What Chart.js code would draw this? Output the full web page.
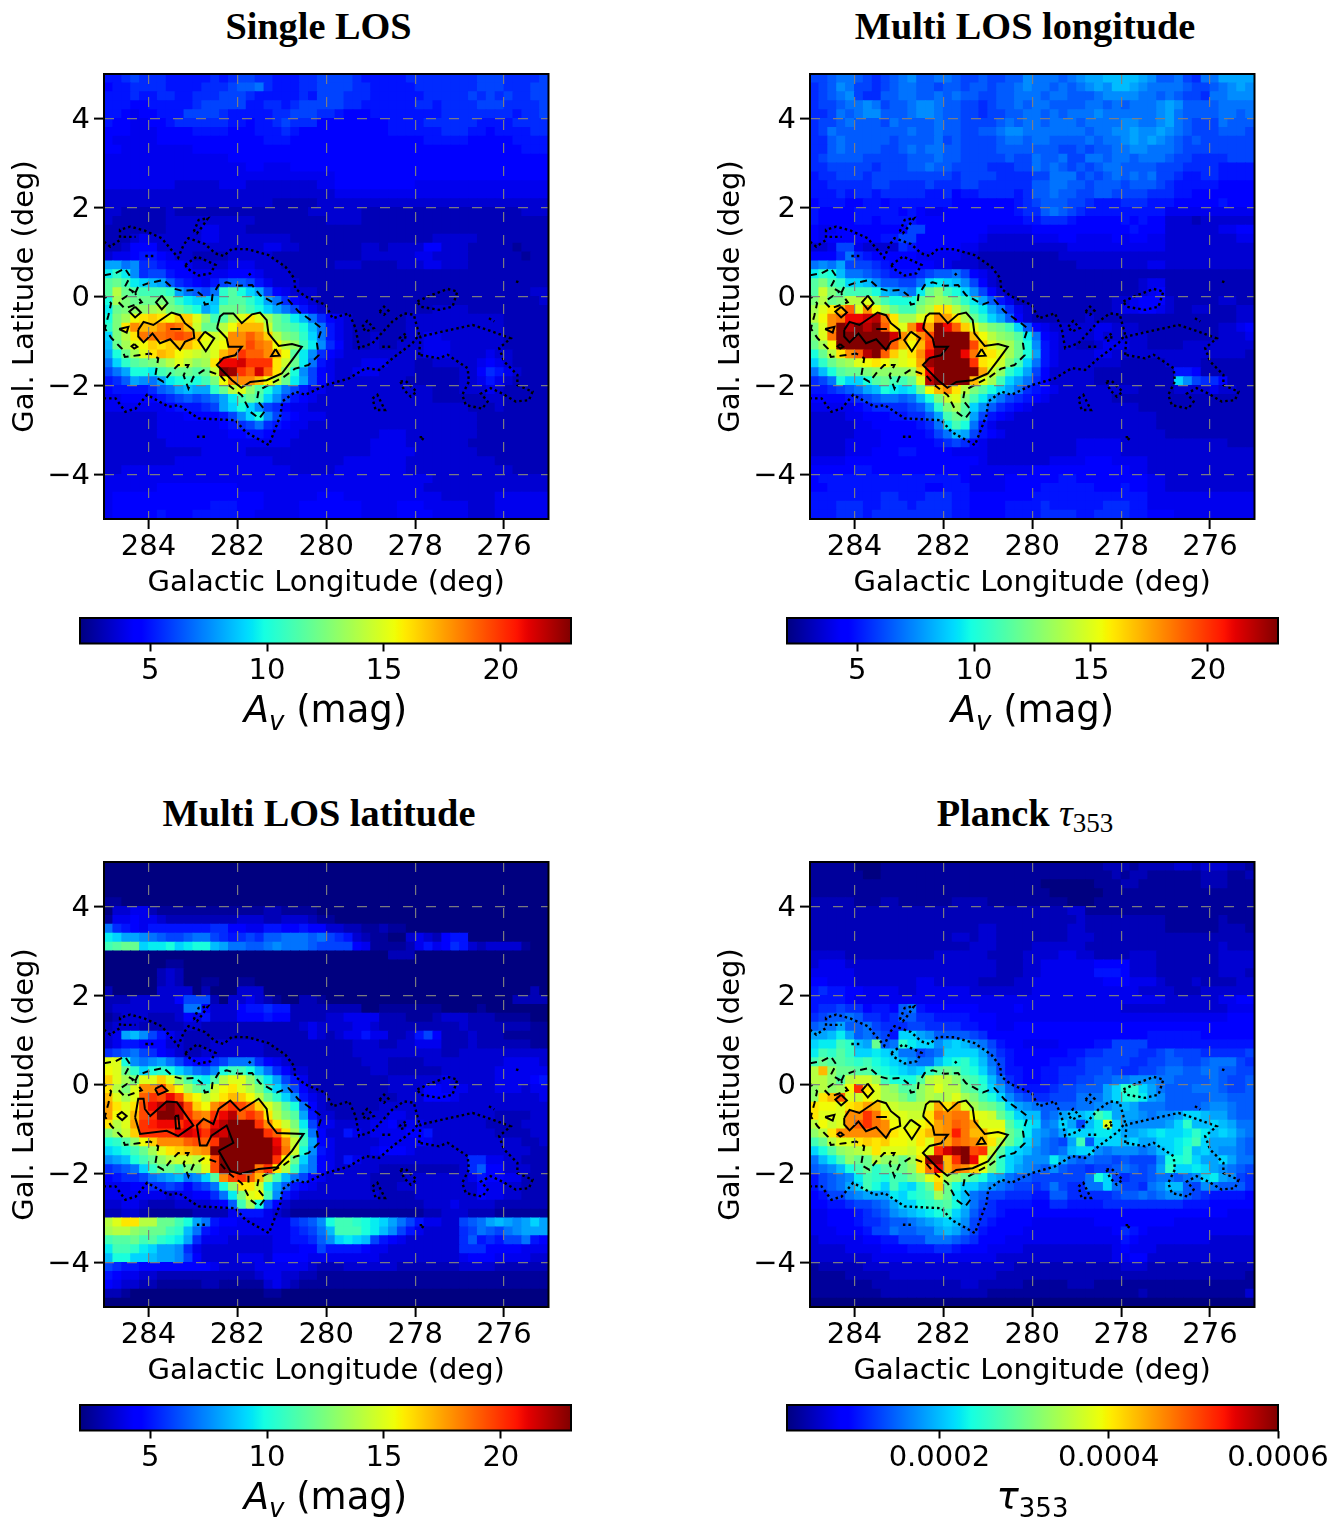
<!DOCTYPE html>
<html>
<head>
<meta charset="utf-8">
<title>Extinction maps</title>
<script src="https://cdn.jsdelivr.net/npm/chart.js@4"></script>
<style>
body { margin: 0; background: #fff; }
#page { position: relative; width: 1341px; height: 1519px; overflow: hidden; }
canvas { position: absolute; }
.title { position: absolute; width: 600px; text-align: center; font: bold 38.3px "Liberation Serif", serif; color: #000; white-space: nowrap; }
.title span { font-weight: normal; }
.title sub { font-size: 27px; vertical-align: -6px; line-height: 0; }
.cb { position: absolute; width: 491px; text-align: center; font: 37px "DejaVu Sans", sans-serif; color: #000; white-space: nowrap; }
.cb i sub { font-style: normal; }
.cb sub { font-size: 26px; vertical-align: -8px; line-height: 0; }
</style>
</head>
<body>
<div id="page"></div>
<script>
// heat map levels, top row first, left column first (l=285 to l=275)
// each char is a level: 0=lowest of the colour bar, G=highest, half a magnitude a step
const singleLosRows = [
"6678777666 6676788776 6677888876 6666777777 7788877778",
"5667777666 6777899a76 6677888877 6666677777 7788877788",
"6667667766 7778887666 6676888777 6666667777 7878787788",
"6665566666 7888886677 6788888776 6666677677 7788877778",
"6654556668 8887666667 7888776555 6666666677 7777776778",
"6554455677 7777665667 8777555555 5566667777 7766667777",
"5554445555 6666555666 7655555555 5566666677 7665666677",
"5444445555 5555555566 6555555555 5555556666 6555556666",
"5544444444 5555555555 5555555555 5555555555 5555555666",
"4444444444 4444555555 5555555555 5555555555 5555555555",
"4444444444 4444445544 4555555555 5555555555 5555555555",
"4444444444 4444444444 4444445555 5555555555 5555555555",
"4444444433 3334443333 3333445555 5555544444 4444444444",
"3333333333 3333333333 3333334444 4444444444 4444444444",
"3333333333 3333333332 2222333333 3333333333 3333333333",
"3322222322 2222222222 2223333332 2222222222 2222222333",
"3222222333 3333333222 2222233332 2222222222 2222222222",
"2222222333 3443332222 2222222222 2222222222 2222222222",
"2223433333 3443333333 3222222222 2222222333 3322222222",
"2235553333 3333333344 3322222223 3233335533 3222221222",
"3445665433 2222333332 2222222223 3333344333 3222222122",
"ccab776554 3333444333 2222223332 2223334433 3222222222",
"fhfb788655 4444555433 3222222222 2222222222 2222222222",
"jkifedc976 5468998643 3322222222 2222222222 2222222222",
"jokjiiihca 98ahjgec85 4333222222 2222222222 2222222233",
"gnlkkklkhf eedhjjhfca 7543222222 2222222222 2222222223",
"fklmmnolki gcekkkigec a864322222 2222222333 3222222222",
"glnrstsrtt qmijnqsqnk ifda754322 2222333333 3333322222",
"hlswuuwyxu pkkoruuupk jigda64322 2222333333 3333322222",
"elosxxxyzy urpqwwywto lkhea64322 3222334433 3333322222",
"dknqrtstuu sqqrwwzxwr omifb75322 3223334443 3333322222",
"cgknqsutrq poquwAyywu rjfb754333 3333334443 3334332222",
"aehjklmoqo mnsCCDAAAs pkfa643334 4433322333 3345432222",
"8acggfijkk jkpGFAyDys mgb8543344 4333322222 3357643222",
"679cbacfgh gilrwwwuro kfc8543333 3333222222 3346432222",
"5666679acd cchkoqmjgd a864433333 3333333222 3334322222",
"4455556789 89acfikieb 8654333333 3333333222 2223322222",
"4444444566 678cegeb87 5443333333 3333333333 3222322222",
"3333334445 55568begb8 6544433333 3333333333 3322222222",
"3333334444 4445678a76 5443333333 3333333333 3322222222",
"3333334444 4444556654 4433333333 3444333333 3322222222",
"3333333444 4444444444 4333333333 4444333333 3222222222",
"3333333333 3444443333 3333333333 4444433333 3322222222",
"3333333344 4444444443 3333333444 4444333333 3333222222",
"3344444444 4444444444 4333334444 4444333333 3333332222",
"4444444444 4444444444 4444444444 4444444333 3333333333",
"4444445555 5555544444 4444444444 4444443333 3333333333",
"4555555555 5555555544 4444555444 4444444433 3333444444",
"4555555555 5566655544 4455555554 4445554444 4333444444",
"4555556555 6666655444 4455555554 4445555444 4333444444"
];
const multiLonRows = [
"889aa98789 ab99aa9889 8899baaa9a bccddddcb9 9a87aacccc",
"789ba88789 aa99899899 899abaa9a9 abcbddcbaa aa9889abcb",
"789ab87799 aa99a9a998 899aaa9aa9 99abbbbaa9 a9887aabbb",
"7889aaba89 9abba99887 899a9aa999 9aa9a9aaab cb9999aaaa",
"778a9abb99 9abba99887 8899aa9a9a aabaaaaaab ca9999aa9a",
"7889a9998a 9999a99888 89a9aa9aaa 9aaaabbaab ca9888a999",
"78a9999999 9a99a99889 9abbaaaaaa a9aabbcbbc ba98889998",
"779a999998 9999a89888 89aa9aa999 9a9aabcbcb a989888888",
"779a999988 9a9aa99888 8999999988 9899aabbaa a988888888",
"7899998888 8999a99888 88988a99a8 8aa9aa9aaa 9887777888",
"7788888788 899a998888 77788a9a98 989aa99998 8877776666",
"6778887888 8888887888 8777788aaa 8989a9a9a8 8766776666",
"6677777887 7778777887 7777799aa9 9899989998 7666665555",
"6667677677 7776675667 7776799a99 8899888877 7665555555",
"5666556656 6666665555 5556789998 8766677766 6555556555",
"6555566666 5654455555 5556779a98 7666666666 4444444444",
"6555566566 6655555555 5555667776 5555565655 3332333333",
"5445555555 5885555555 4444455555 5555556555 3333334455",
"5455555566 8855555554 3333344455 4444545544 3333333344",
"3348843333 7655555443 3333333334 4444444444 3333333333",
"5557a76555 5544444332 2222222233 3333333333 3333333333",
"abac888765 5555443332 2222222222 3333333344 3333333333",
"fhgdaa9876 667899a854 3222222222 2222222222 2222222222",
"jliheedb99 88aefedb85 3222222222 2222222344 2222222222",
"jpljiiigdc bafkmigeb8 5322222222 2222222345 2222222222",
"loklooqlig ggkmnmkhfc 9642222222 2222334555 3222223322",
"nqsuyqwrnk iimossolhf ca74322222 2222344554 3223322233",
"orwxCCDExs nnqswvsokh ec95322222 2322222222 2222222233",
"lqwGEGEGys qwCvGCytqn lkie954333 3344333222 2222223345",
"lqxGGGGGGD wswzGGGGur omljfa5433 3343333322 2222223334",
"knrGGGGGGy uruAGGGGzt qonkgb6433 2234443322 2233333333",
"gkoswyEGyt qswCGGGCxs sqnkgc6433 3344333333 3333333332",
"ehkmnqrsrp qrvFGGGGAs rpliea6433 3333322222 3333222222",
"adgjkklmmm mntCGGGGGv pmhfc85333 3322222222 2665222222",
"78ageegjki ikqEGGGGuq nieca75333 3322222222 2eb8775222",
"66789acdgf efkruwsolj geca765433 3333333222 2333343322",
"55556789aa 9adglpqlif ca87654333 3333222222 2222222222",
"4444456777 789chlnjeb 9765433333 3333333222 2222222222",
"3333445556 6779cikjc8 6543333333 3333333332 2222222222",
"3333344555 5567afiga6 4333333333 3333333332 2222222222",
"3333344455 55568adc86 5433333333 3333333333 2222222222",
"3333444455 5555678754 3333333333 4444433333 3333333222",
"3333444555 6655554444 3333333333 4444433333 3333333333",
"4444555555 5555555554 3333333444 4555444433 3333333333",
"5555566555 5555555544 4444455555 5555554433 3333333333",
"5666666666 6666666544 4455555566 5555555544 3333333333",
"5566666666 6665566644 4455556666 6655565544 3333333333",
"6666666677 6667776655 5555566666 6666666644 4444444444",
"6667776677 7677776655 5566667666 6667776644 4444444444",
"6667776777 7777776655 5566667777 6677776655 5444444444"
];
const multiLatRows = [
"0000000000 0000000000 0000000000 0000000000 0000000000",
"0000000000 0000000000 0000000000 0000000000 0000000000",
"0000000000 0000000000 0000000000 0000000000 0000000000",
"0000000000 0000000000 0000000000 0000000000 0000000000",
"1100000000 0000000000 0000000000 0000000000 0000000000",
"0334421111 1111111122 1111000000 0000000000 0000000000",
"1445443222 2222233322 3332110000 0000000000 0000000000",
"a765466666 6677554466 5565533221 1211000000 0000000000",
"feccba9889 aa87678799 aaa9a87632 1100343256 6000000000",
"ijkkeffgef ggdcaa99ab aaa9888854 1111246457 6323333100",
"0000000000 0000000000 0000000000 0022200000 0000000000",
"0000000110 0000000000 0000000000 0000000000 0000000000",
"0000002320 0000000000 0000000000 0000000000 0000000000",
"0000002320 0110011000 0000000000 0000000000 0000000000",
"2000003333 0200033300 0000000000 0000000000 0000000020",
"2223333358 8820334321 0022100000 0000000000 0000002222",
"233333333a a533356676 6222222220 0111111100 0010000000",
"1233322235 4633355565 5222233444 4222111233 3222111100",
"2333222223 3222222222 2234333344 3222222222 3222222211",
"34cdb86432 2222222222 2224323446 4422368522 2322211111",
"3466555332 2233333322 2222222233 3223344422 2322222211",
"789a875432 2333333322 2222222233 3333333322 3333333333",
"qqgbabca86 5578aaa754 3222222223 3322223333 3333344443",
"rqkheghgec a9bgiigda7 5332222222 3322222233 3333444444",
"tqnlqqtqmj gfjoqqmifc 8642222222 2233333343 3333444456",
"solqwwzurn kiprsqolhe b853222222 2233335544 4333444344",
"uqnqyAzCzt roqsutrokh eb64322222 2223335554 3333333334",
"vsqszCEGEz trwyAzxtqn jga5322222 2333333333 3333333333",
"vrquzAGGEA xwACEyAyso ljc6332222 3344333333 3333222233",
"soqvABCCAC AyCEGGGAws plf8443333 4453443333 3332222333",
"lnptAAAACD CAEDGGGGAy snha533643 4444556333 3333222233",
"ghjmrtwwwy zyAGGGGGGC wpic543333 3444454333 3333333223",
"efgiknqstu vwGGGGGGGD xpgb643333 4555433333 3333333322",
"bcdgikmopp orzGGGGGGA rkea543643 3333333333 3774433222",
"789aehkkil mqzGGGGxAs ohca543333 3222222222 3795533322",
"56778abcda bejwzAyuni da85433333 2222333333 3465544222",
"4445577875 78agmsspgc 9654333333 2223333333 3354433222",
"4444444344 557aflqrib 6433333333 3222233333 3354433222",
"3344322233 33459ing85 3222222222 2222223334 3333222222",
"2233211111 2222466643 2111111111 1111112233 3222111111",
"oqssookkig ca65544444 4789bgiihg feca864433 89acdcbcec",
"noomlkkihd a654444444 4678adiiig fdb8643333 78a98abccc",
"ijjkijhgfc 7444333334 46679befed 8654333333 7967688a65",
"fiihfeccb7 4333333334 4455866665 4433333333 7775555444",
"dggeedccb8 5333344435 5554444444 4333333333 4555444433",
"8766555555 5543333444 4443222333 3332222222 3333222222",
"6544332222 2222222344 3322111111 1111111111 1111111111",
"5433221111 1221111134 3211111111 1111111111 1111111111",
"2210000000 0000000011 0000000000 0000000000 0000000000",
"0000000000 0000000000 0000000000 0000000000 0000000000"
];
const planckRows = [
"1111100011 1111111111 1111111111 1112221222 2332333221",
"1111110011 1111111111 1111111111 1111212211 1111222112",
"1111111111 1111111111 1111110000 0011122111 1111222111",
"1111111111 1111111111 1111111000 0001111111 1111111111",
"2222211122 1111112222 1111111110 0011111111 1111111111",
"2222222222 2222222222 2222222223 3111111111 1111111111",
"2222222222 2222222222 2222222222 3222222222 1111112111",
"2222222222 2222222223 3222222223 3222222222 1111112221",
"2222222222 2222223323 3222222223 3322222222 2222222222",
"2222222222 2222222233 3222233333 3222222222 2222223222",
"3333222222 2222333333 2222333344 3322223332 2222223333",
"3444333333 3333333333 3222334444 4455553332 2222223333",
"4444433333 3333333333 3222334444 4466653332 2222223332",
"5544433333 3344333332 2223344444 4445554443 2223222233",
"6766554444 3344444433 3333344444 4444444333 3222333333",
"6666544444 4444444444 4444444444 4444444444 3333334455",
"6778775665 9a65555554 4445444444 4444433333 3333333444",
"7899a97767 9977666655 5444444444 4444444444 4444444555",
"9aac99a877 7887777665 5445555555 5555555555 5555555555",
"ccdfc9a986 eecb999987 5555555555 5555555566 6666555555",
"effihdck9a hfeebdedba 8655444455 5566888866 6666666666",
"fihjheefed aa89aeeeec 9765555556 6778888778 9888777778",
"ikjjihigfe dbaadfghfd a865555666 7888887788 99889aaa87",
"oumkkjjhgf edehjkjhge b866556677 7889877889 aa99aa9988",
"oomjoppnig ggjopomjig da76556677 8899aabbba a9999a9889",
"momnrAsqnm jjmoqookjh ec97666788 999cehheca 999aaa9889",
"msuyqprqnn ljmonoqnli geb9877888 aaaceghfcb 99999aa999",
"srrqstvuqp oooqvsvqnl kiecba9999 aabbcdcaaa 9999abba99",
"sqqqwwAxsq qppsxwxxrq pkhedd9acd deigcccbab bceedcca99",
"orpqwyAxwr qqrsvwyxvq qqjgfeabec 8dfqecbbbb cehddedcaa",
"moswwwwwws rrsuvwBxuu rrkifcbace eeffeccdef eefhfdedba",
"ikoqqststr rqsqvvyxwu sokheca98c i9eeedecce efgieccca9",
"egjmnopsqq qprqADFGzA pjfedba9ad eebabbbabd efhdecbba9",
"adfimkkomm knsFFuAGCr mhedbbbfca 9a9989888b ggheccecaa",
"9abdgikhjk kmsxCuxwtq lhecba9b98 87889a989c heefecba98",
"689abfihgi ikmqsnmkig dca9988888 8age87889a a9abefcb87",
"689aceigei fehktkgeec ba98878a87 7aaea887ab dd98ba9997",
"5688abcccf eghinkfda9 8877766997 7777899a9a bb98766665",
"55667889ac eeghijgda8 7666655776 6667777777 7766655555",
"445556789b cdefghec97 7655555555 5555555555 5555555444",
"4455567789 9abcdedb87 6555544444 4455555555 5444444444",
"444555688a 99aacdca86 5555444444 4444576544 4444444444",
"3444445566 888aaa9875 5544444444 4444465444 4444433333",
"3333444455 5666776555 4444333333 3333454443 3333333333",
"3333333444 4444444444 4333333333 3333445533 3333333333",
"1222223333 3333333333 3332222222 2222233322 2222222222",
"1111222223 3333333333 3222222222 2222222222 2222222221",
"1111111222 2222222332 2222111112 2211111111 1111111111",
"1111111122 2222222222 1111111111 1111111211 1111111113",
"0000000000 0000000000 0000000000 0000000000 0000000000"
];

const levelChars = "0123456789abcdefghijklmnopqrstuvwxyzABCDEFG";
const xTicks = [284, 282, 280, 278, 276];
const yTicks = [-4, -2, 0, 2, 4];
const avRange = [2, 23];
const avTicks = [5, 10, 15, 20];
const tauRange = [0.00002, 0.0006];
const tauTicks = [0.0002, 0.0004, 0.0006];

// contours in galactic degrees (l, b), same shapes on all maps
const solidContours = [
  [[284.23,-.75],[284.11,-.57],[283.89,-.64],[283.61,-.45],[283.48,-.36],[283.29,-.42],[283.18,-.60],[282.99,-.75],[282.97,-.93],[283.18,-1.02],[283.29,-1.20],[283.51,-.96],[283.74,-1.05],[283.91,-.83],[284.11,-1.03],[284.23,-.90],[284.23,-.75]],
  [[282.45,-.68],[282.39,-.45],[282.31,-.38],[282.09,-.38],[281.90,-.60],[281.67,-.40],[281.49,-.36],[281.34,-.53],[281.30,-.83],[281.07,-1.11],[280.77,-1.07],[280.55,-1.13],[280.77,-1.43],[281.00,-1.73],[281.34,-1.88],[281.71,-1.92],[281.91,-2.05],[282.12,-1.88],[282.46,-1.54],[282.31,-1.38],[282.05,-1.32],[281.90,-1.13],[282.20,-1.13],[282.24,-.94],[282.45,-.72],[282.45,-.68]],
  [[283.70,.02],[283.57,-.15],[283.70,-.29],[283.83,-.13],[283.70,.02]],
  [[284.30,-.23],[284.17,-.36],[284.30,-.47],[284.43,-.34],[284.30,-.23]],
  [[284.66,-.73],[284.45,-.68],[284.49,-.81],[284.66,-.73]],
  [[284.32,-1.07],[284.25,-1.13],[284.32,-1.17],[284.38,-1.12],[284.32,-1.07]],
  [[282.73,-.79],[282.52,-.94],[282.71,-1.23],[282.88,-.98],[282.73,-.79]],
  [[283.51,-.73],[283.27,-.73]],
  [[281.14,-1.18],[281.05,-1.33],[281.24,-1.34],[281.14,-1.18]]
];
const latSolidContours = [
  [[282.42,-1.49],[282.09,-1.31],[282.24,-.92],[282.58,-1.15],[282.69,-1.37],[282.84,-1.37],[282.91,-.92],[282.76,-.77],[282.54,-.89],[282.42,-.55],[282.16,-.36],[281.94,-.59],[281.52,-.32],[281.34,-.55],[281.30,-.85],[281.11,-1.09],[280.51,-1.11],[280.77,-1.49],[281.11,-1.86],[281.52,-1.90],[281.94,-2.01],[282.16,-1.94],[282.42,-1.49]],
  [[284.30,-.74],[284.23,-.32],[284.11,-.32],[284.08,-.55],[283.96,-.71],[283.59,-.38],[283.36,-.40],[282.99,-.92],[283.33,-1.16],[283.59,-1.04],[284.19,-1.11],[284.30,-.74]],
  [[284.71,-.70],[284.60,-.62],[284.49,-.71],[284.59,-.80],[284.71,-.70]],
  [[283.85,-.10],[283.70,-.02],[283.57,-.14],[283.78,-.23],[283.85,-.10]],
  [[283.40,-.71],[283.33,-.70],[283.30,-.99],[283.38,-.99],[283.40,-.71]],
  [[281.75,-2.05],[281.75,-2.2]]
];
const dashedContours = [
  [[284.30,.07],[284.23,.22],[284.00,.30],[283.66,.37],[283.44,.18],[283.25,.13],[282.95,.15],[282.80,.03],[282.73,-.18],[282.58,-.15],[282.56,.03],[282.42,.26],[282.24,.32],[281.97,.24],[281.67,.26],[281.49,.03],[281.11,-.18],[280.85,-.08],[280.62,-.34],[280.25,-.60],[280.10,-.72],[280.21,-1.05],[280.17,-1.32],[280.40,-1.54],[280.70,-1.62],[280.96,-1.81],[281.30,-1.99],[281.52,-2.11],[281.56,-2.33],[281.37,-2.56],[281.51,-2.74],[281.71,-2.59],[281.90,-2.22],[282.20,-1.99],[282.39,-1.77],[282.61,-1.69],[282.76,-1.66],[282.99,-1.81],[283.10,-2.07],[283.21,-1.77],[283.10,-1.54],[283.33,-1.54],[283.48,-1.69],[283.66,-1.92],[283.85,-1.81],[283.78,-1.39],[283.96,-1.28],[284.23,-1.32],[284.53,-1.36],[284.60,-1.17],[284.83,-.94],[284.98,-.72],[284.90,-.42],[284.84,-.15],[285,.02]],
  [[285,.48],[284.75,.52],[284.53,.63],[284.41,.45],[284.53,.22],[284.34,.11],[284.68,-.12],[284.53,-.27],[284.15,-.13],[284.30,.07]]
];
const dottedContours = [
  [[285,1.23],[284.86,1.12],[284.64,1.27],[284.64,1.5],[284.41,1.57],[284.08,1.48],[283.70,1.31],[283.51,1.08],[283.33,.87],[283.21,1.16],[283.10,1.31],[282.73,1.18],[282.50,.97],[282.31,.91],[282.12,1.07],[281.75,1.06],[281.30,.93],[280.92,.67],[280.72,.41],[280.70,.18],[280.47,0],[280.01,-.19],[279.86,-.49],[279.49,-.38],[279.34,-.71],[279.26,-1.16],[278.96,-1.05],[278.51,-.56],[278.25,-.38],[278.03,-.41],[277.91,-.86],[278.06,-1.05],[278.51,-1.39],[278.81,-1.65],[279.11,-1.61],[279.49,-1.84],[280.01,-1.99],[280.47,-2.21],[280.69,-2.14],[280.99,-2.36],[281.03,-2.67],[281.29,-3.34],[281.82,-3.04],[282.04,-2.78],[282.87,-2.74],[283.32,-2.44],[283.54,-2.48],[284.03,-2.21],[284.29,-2.52],[284.52,-2.59],[284.74,-2.29],[285,-2.29]],
  [[277.91,-1.31],[277.88,-.90],[277.39,-.79],[276.71,-.64],[276.26,-.79],[275.85,-.94],[276.11,-1.16],[276.0,-1.46],[275.70,-1.76],[275.70,-1.99],[275.36,-2.14],[275.44,-2.33],[275.74,-2.36],[276.04,-2.18],[276.30,-2.06],[276.52,-2.18],[276.37,-2.36],[276.49,-2.52],[276.86,-2.44],[276.94,-2.21],[276.79,-1.91],[276.82,-1.61],[277.27,-1.31],[277.46,-1.39],[277.91,-1.31]],
  [[277.95,-.11],[277.61,.04],[277.27,.17],[277.05,.11],[277.16,-.23],[277.46,-.30],[277.88,-.23],[277.95,-.11]],
  [[283.17,.71],[282.91,.90],[282.49,.71],[282.61,.52],[282.87,.47],[283.13,.63],[283.17,.71]],
  [[282.98,1.46],[282.87,1.72],[282.66,1.76],[282.79,1.57],[282.91,1.42],[282.98,1.46]],
  [[279.19,-.68],[279.08,-.55],[278.93,-.71],[279.11,-.79],[279.19,-.68]],
  [[278.80,-.34],[278.70,-.23],[278.60,-.32],[278.70,-.41],[278.80,-.34]],
  [[278.33,-1.91],[278.21,-1.90],[277.97,-2.14],[278.10,-2.25],[278.25,-2.10],[278.33,-1.91]],
  [[278.96,-2.29],[278.85,-2.21],[278.68,-2.55],[278.89,-2.55],[278.96,-2.29]],
  [[278.36,-.94],[278.21,-.83],[278.23,-.98],[278.33,-1.0],[278.36,-.94]],
  [[278.74,-1.13],[278.55,-1.13]],
  [[282.91,-3.15],[282.72,-3.15]],
  [[284.56,1.34],[284.29,1.34]],
  [[284.07,.91],[283.88,.91]],
  [[281.74,.52],[281.68,.45]],
  [[277.9,-3.16],[277.8,-3.16],[277.88,-3.27]],
  [[275.73,.34],[275.62,.30]],
  [[276.34,-.49],[276.22,-.56]]
];

function jet(t) {
  t = Math.min(1, Math.max(0, t));
  function lerp(pts) {
    for (let i = 1; i < pts.length; i++) {
      if (t <= pts[i][0]) {
        const a = pts[i - 1], b = pts[i];
        return a[1] + (b[1] - a[1]) * (t - a[0]) / (b[0] - a[0]);
      }
    }
    return pts[pts.length - 1][1];
  }
  const r = lerp([[0,0],[.35,0],[.66,1],[.89,1],[1,.5]]);
  const g = lerp([[0,0],[.125,0],[.375,1],[.64,1],[.91,0],[1,0]]);
  const b = lerp([[0,.5],[.11,1],[.34,1],[.65,0],[1,0]]);
  return `rgb(${Math.round(r*255)},${Math.round(g*255)},${Math.round(b*255)})`;
}

Chart.defaults.font.family = '"DejaVu Sans", sans-serif';
Chart.defaults.color = '#000';
Chart.defaults.animation = false;

const page = document.getElementById('page');

const framePlugin = {
  id: 'frame',
  afterDraw(chart) {
    const a = chart.chartArea, c = chart.ctx;
    c.save();
    c.strokeStyle = '#000';
    c.lineWidth = 2;
    c.strokeRect(a.left, a.top, a.right - a.left, a.bottom - a.top);
    c.restore();
  }
};

function addCanvas(left, top, w, h) {
  const cv = document.createElement('canvas');
  cv.width = w; cv.height = h;
  cv.style.left = left + 'px';
  cv.style.top = top + 'px';
  cv.style.width = w + 'px';
  cv.style.height = h + 'px';
  page.appendChild(cv);
  return cv;
}

function addText(cls, left, top, html) {
  const d = document.createElement('div');
  d.className = cls;
  d.style.left = left + 'px';
  d.style.top = top + 'px';
  d.innerHTML = html;
  page.appendChild(d);
}

function contourSet(lines, dash, width) {
  return lines.map(line => ({
    type: 'scatter',
    data: line.map(p => ({x: p[0], y: p[1]})),
    showLine: true,
    pointRadius: 0,
    borderColor: '#000',
    borderWidth: width,
    borderDash: dash,
    fill: false,
    tension: 0,
    order: 1
  }));
}

function drawMap(left, top, rows, range, solid) {
  const cells = [];
  const colours = [];
  rows.forEach((row, r) => {
    const chars = row.replace(/\s/g, '');
    for (let c = 0; c < 50; c++) {
      const lvl = Math.max(0, levelChars.indexOf(chars[c]));
      const value = range[0] + lvl * (range[1] - range[0]) / 42;
      cells.push({x: 285 - (c + 0.5) * 0.2, y: 5 - (r + 0.5) * 0.2, v: value});
      colours.push(jet((value - range[0]) / (range[1] - range[0])));
    }
  });
  const cv = addCanvas(left - 104, top - 14, 600, 541);
  const axisGrid = {z: 1, color: 'rgba(128,128,128,0.95)', lineWidth: 1.2, tickColor: '#000', tickWidth: 2, tickLength: 10};
  new Chart(cv, {
    type: 'scatter',
    data: {
      datasets: [
        {
          data: cells,
          pointStyle: 'rect',
          // cells overlap a little so no seams show between them
          pointRadius: ctx => (ctx.chart.chartArea ? ctx.chart.chartArea.width / 50 + 0.9 : 9) * Math.SQRT1_2,
          pointBorderWidth: 0,
          pointBackgroundColor: colours,
          order: 10
        },
        ...contourSet(solid, [], 2),
        ...contourSet(dashedContours, [7, 5], 2),
        ...contourSet(dottedContours, [2.5, 3], 2.4)
      ]
    },
    options: {
      responsive: false,
      layout: {padding: {top: 14, right: 51.5, left: 0, bottom: 0}},
      plugins: {legend: {display: false}, tooltip: {enabled: false}},
      events: [],
      scales: {
        x: {
          type: 'linear',
          reverse: true,
          min: 275,
          max: 285,
          afterBuildTicks: s => { s.ticks = xTicks.map(v => ({value: v})); },
          afterFit: s => { s.height = 82; s.paddingLeft = 0; s.paddingRight = 0; },
          border: {display: false, dash: [10, 13]},
          grid: axisGrid,
          ticks: {font: {size: 29}, padding: 1.5, maxRotation: 0, autoSkip: false, color: '#000', callback: v => String(v)},
          title: {display: true, text: 'Galactic Longitude (deg)', font: {size: 29}, padding: 0}
        },
        y: {
          type: 'linear',
          min: -5,
          max: 5,
          afterBuildTicks: s => { s.ticks = yTicks.map(v => ({value: v})); },
          afterFit: s => { s.width = 104; s.paddingTop = 0; s.paddingBottom = 0; },
          border: {display: false, dash: [10, 13]},
          grid: axisGrid,
          ticks: {font: {size: 29}, padding: 4, labelOffset: 1.5, autoSkip: false, color: '#000', callback: v => String(v).replace('-', '\u2212')},
          title: {display: true, text: 'Gal. Latitude (deg)', font: {size: 29}, padding: {top: 8.5, bottom: 0}}
        }
      }
    },
    plugins: [framePlugin]
  });
}

function drawColorbar(left, top, range, ticks, fmt) {
  const cv = addCanvas(left - 40, top - 8, 601, 84);
  new Chart(cv, {
    type: 'bar',
    data: {
      labels: [''],
      datasets: [{
        data: [range],
        barPercentage: 1,
        categoryPercentage: 1,
        backgroundColor: ctx => {
          const a = ctx.chart.chartArea;
          if (!a) return '#000';
          const g = ctx.chart.ctx.createLinearGradient(a.left, 0, a.right, 0);
          for (let i = 0; i <= 128; i++) g.addColorStop(i / 128, jet(i / 128));
          return g;
        }
      }]
    },
    options: {
      indexAxis: 'y',
      responsive: false,
      layout: {padding: {top: 8, right: 70, left: 40, bottom: 0}},
      plugins: {legend: {display: false}, tooltip: {enabled: false}},
      events: [],
      scales: {
        y: {display: false},
        x: {
          type: 'linear',
          min: range[0],
          max: range[1],
          afterBuildTicks: s => { s.ticks = ticks.map(v => ({value: v})); },
          afterFit: s => { s.height = 50.5; s.paddingLeft = 0; s.paddingRight = 0; },
          border: {display: false},
          grid: {drawOnChartArea: false, tickColor: '#000', tickWidth: 2, tickLength: 8},
          ticks: {font: {size: 29}, padding: 3, maxRotation: 0, autoSkip: false, color: '#000', callback: fmt}
        }
      }
    },
    plugins: [framePlugin]
  });
}

const avLabel = '<i>A<sub><i>v</i></sub></i> (mag)';
const tauLabel = '<i>\u03C4</i><sub>353</sub>';
const avFmt = v => String(v);
const tauFmt = v => v.toFixed(4);

drawMap(104, 74, singleLosRows, avRange, solidContours);
drawMap(810, 74, multiLonRows, avRange, solidContours);
drawMap(104, 862, multiLatRows, avRange, latSolidContours);
drawMap(810, 862, planckRows, tauRange, solidContours);

drawColorbar(80, 618, avRange, avTicks, avFmt);
drawColorbar(787, 618, avRange, avTicks, avFmt);
drawColorbar(80, 1405, avRange, avTicks, avFmt);
drawColorbar(787, 1405, tauRange, tauTicks, tauFmt);

addText('title', 18.5, 4, 'Single LOS');
addText('title', 725, 4, 'Multi LOS longitude');
addText('title', 19, 791, 'Multi LOS latitude');
addText('title', 725, 791, 'Planck <span><i>\u03C4</i><sub>353</sub></span>');

addText('cb', 80, 688, avLabel);
addText('cb', 787, 688, avLabel);
addText('cb', 80, 1475, avLabel);
addText('cb', 787, 1475, tauLabel);
</script>
</body>
</html>
